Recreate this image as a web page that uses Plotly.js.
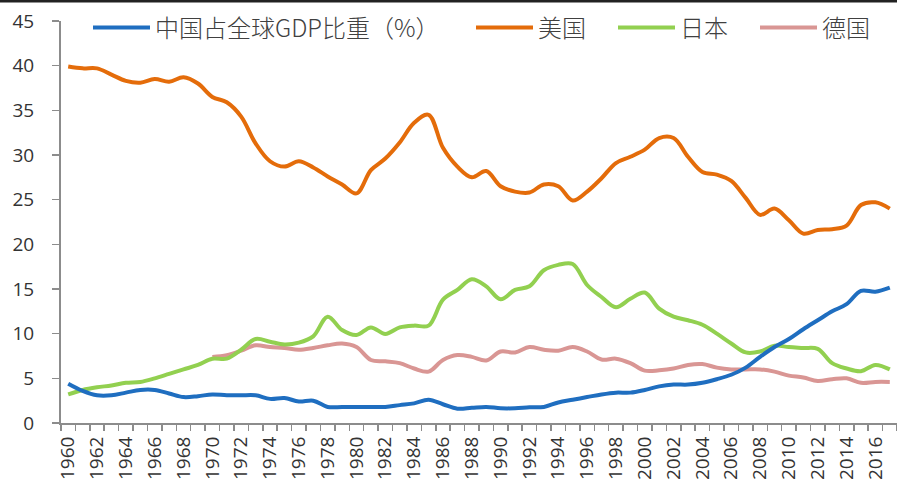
<!DOCTYPE html>
<html>
<head>
<meta charset="utf-8">
<script src="https://cdn.plot.ly/plotly-3.0.1.min.js"></script>
<style>
  html, body { margin: 0; padding: 0; background: #fff; }
  #chart { width: 897px; height: 482px; }
</style>
</head>
<body>
<div id="chart"></div>
<script>
const years = [];
for (let y = 1960; y <= 2017; y++) years.push(y);

const seriesNames = ['中国占全球GDP比重（%）', '美国', '日本', '德国'];

const china = [4.4, 3.6, 3.1, 3.1, 3.4, 3.7, 3.7, 3.3, 2.9, 3.0,
               3.2, 3.1, 3.1, 3.1, 2.7, 2.8, 2.4, 2.5, 1.8, 1.8,
               1.8, 1.8, 1.8, 2.0, 2.2, 2.6, 2.1, 1.6, 1.7, 1.8,
               1.65, 1.65, 1.75, 1.8, 2.3, 2.6, 2.9, 3.2, 3.4, 3.4,
               3.7, 4.1, 4.3, 4.3, 4.5, 4.9, 5.4, 6.2, 7.4, 8.5,
               9.4, 10.5, 11.5, 12.5, 13.3, 14.8, 14.7, 15.15];

const usa = [39.9, 39.7, 39.7, 39.0, 38.3, 38.1, 38.5, 38.2, 38.7, 38.0,
             36.5, 35.9, 34.3, 31.3, 29.3, 28.7, 29.3, 28.6, 27.6, 26.7,
             25.7, 28.3, 29.6, 31.4, 33.6, 34.5, 30.8, 28.7, 27.5, 28.2,
             26.5, 25.9, 25.8, 26.7, 26.5, 24.9, 25.9, 27.4, 29.1, 29.8,
             30.6, 31.9, 31.9, 29.8, 28.1, 27.8, 27.1, 25.2, 23.3, 24.0,
             22.7, 21.2, 21.6, 21.7, 22.1, 24.4, 24.7, 24.0];

const japan = [3.2, 3.7, 4.0, 4.2, 4.5, 4.6, 5.0, 5.5, 6.0, 6.5,
               7.2, 7.2, 8.2, 9.4, 9.1, 8.8, 9.0, 9.7, 11.9, 10.4,
               9.85, 10.7, 9.97, 10.7, 10.9, 10.9, 13.8, 14.9, 16.1, 15.3,
               13.85, 14.9, 15.3, 17.1, 17.7, 17.8, 15.45, 14.1, 12.95, 13.9,
               14.6, 12.8, 11.9, 11.5, 11.0, 10.0, 8.9, 7.9, 8.0, 8.65,
               8.5, 8.4, 8.3, 6.7, 6.1, 5.8, 6.5, 6.0];

const germany = [null, null, null, null, null, null, null, null, null, null,
                 7.4, 7.6, 8.1, 8.7, 8.5, 8.4, 8.2, 8.4, 8.7, 8.9,
                 8.5, 7.05, 6.9, 6.7, 6.1, 5.75, 7.05, 7.6, 7.4, 7.0,
                 8.0, 7.9, 8.5, 8.2, 8.1, 8.5, 8.0, 7.1, 7.2, 6.7,
                 5.86, 5.9, 6.1, 6.5, 6.6, 6.2, 6.0, 6.0, 6.0, 5.75,
                 5.3, 5.1, 4.7, 4.9, 5.0, 4.5, 4.6, 4.6];

const tickYears = years.filter(y => y % 2 === 0);
const tickLabels = tickYears.map(String);

const colors = ['#1F6EC0', '#E46C0A', '#92D050', '#D99694'];
const allSeries = [china, usa, japan, germany];
const legendIds = ['legend', 'legend2', 'legend3', 'legend4'];

const traces = allSeries.map((vals, i) => ({
  x: years,
  y: vals,
  name: seriesNames[i],
  type: 'scatter',
  mode: 'lines',
  connectgaps: false,
  line: { color: colors[i], width: 4, shape: 'spline', smoothing: 1 },
  legend: legendIds[i],
  hoverinfo: 'x+y+name'
}));
// draw order: Germany, Japan, USA, China on top
const ordered = [traces[3], traces[2], traces[1], traces[0]];

const ML = 61, MR = 0, MT = 21, MB = 59, W = 897, H = 482;
const PW = W - ML - MR, PH = H - MT - MB;

const legendFont = { family: '"Noto Sans CJK SC", sans-serif', size: 24, color: '#404040', weight: 300 };
function legendAt(px) {
  return {
    xref: 'paper', yref: 'paper',
    x: (px - ML) / PW, y: 1 - (28 - MT) / PH,
    xanchor: 'left', yanchor: 'middle',
    orientation: 'h',
    bgcolor: 'rgba(0,0,0,0)',
    font: legendFont,
    itemwidth: 57,
    borderwidth: 0
  };
}

const axisColor = '#8C8C8C';
const layout = {
  width: W,
  height: H,
  margin: { l: ML, r: MR, t: MT, b: MB, autoexpand: false },
  paper_bgcolor: '#ffffff',
  plot_bgcolor: '#ffffff',
  showlegend: true,
  legend: legendAt(88),
  legend2: legendAt(471),
  legend3: legendAt(613),
  legend4: legendAt(755),
  xaxis: {
    range: [1959.5, 2017.5],
    tickmode: 'array',
    tickvals: tickYears,
    ticktext: tickLabels,
    tickangle: -90,
    ticks: '',
    showgrid: false,
    zeroline: false,
    showline: true,
    linecolor: axisColor,
    linewidth: 2,
    tickfont: { family: '"Open Sans", sans-serif', size: 19, color: '#333333' },
    ticklabelstandoff: 4,
    minor: {
      tickmode: 'linear',
      tick0: 1959.5,
      dtick: 1,
      ticks: 'outside',
      ticklen: 6,
      tickwidth: 1.5,
      tickcolor: axisColor,
      showgrid: false
    }
  },
  yaxis: {
    range: [0, 45],
    dtick: 5,
    tick0: 0,
    ticks: 'outside',
    ticklen: 7,
    tickwidth: 1.5,
    tickcolor: axisColor,
    showgrid: false,
    zeroline: false,
    showline: true,
    linecolor: axisColor,
    linewidth: 2,
    tickfont: { family: '"Open Sans", sans-serif', size: 19, color: '#333333' },
    ticklabelstandoff: 14
  },
  shapes: [{
    type: 'line', xref: 'paper', yref: 'paper',
    x0: -ML / PW, x1: 1, y0: 1 + (MT - 1) / PH, y1: 1 + (MT - 1) / PH,
    line: { color: '#222222', width: 3 }
  }]
};

Plotly.newPlot('chart', ordered, layout, { displayModeBar: false, staticPlot: true });
</script>
</body>
</html>
